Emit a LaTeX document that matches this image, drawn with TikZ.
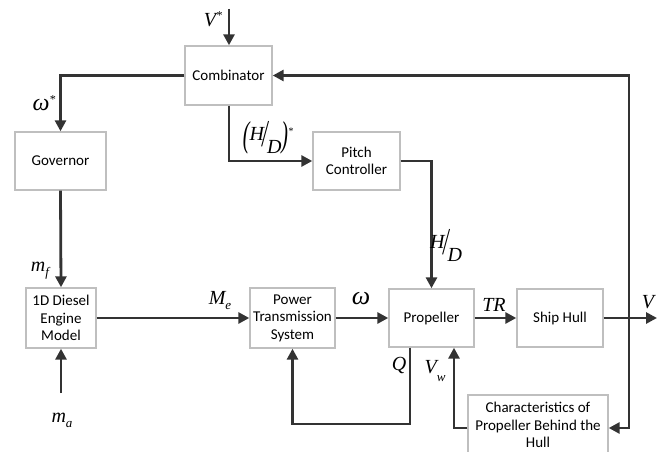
\documentclass[tikz,border=0pt]{standalone}
\usepackage{fontspec}
\usepackage{graphicx}
\setmainfont{Carlito}
\newfontfamily\lblf{Liberation Serif}
\usetikzlibrary{arrows.meta}
\newcommand{\hdfrac}{\raisebox{6pt}{\itshape H}\kern-1pt\scalebox{1}[1.9]{/}\kern-1.5pt\raisebox{-7pt}{\itshape D}}
\begin{document}
\begin{tikzpicture}[x=1pt,y=-1pt,
  blk/.style={draw=black!25,line width=1.4pt,fill=white,align=center,inner sep=1pt,font=\fontsize{15}{17.5}\selectfont},
  conn/.style={draw=black!80,line width=2.8pt,-{Triangle[length=11pt,width=11pt]}},
  lbl/.style={font=\lblf\itshape\fontsize{20}{22}\selectfont,inner sep=0pt}]
\clip (0,0) rectangle (662,452);
\fill[white] (0,0) rectangle (662,452);
\node[blk,minimum width=87pt,minimum height=59pt] (comb) at (228.5,75.5) {Combinator};
\node[blk,minimum width=91pt,minimum height=58pt] (gov) at (60.5,161) {Governor};
\node[blk,minimum width=87pt,minimum height=58pt] (pitch) at (356.5,161) {Pitch\\Controller};
\node[blk,minimum width=70pt,minimum height=60pt] (diesel) at (61,318) {1D Diesel\\Engine\\Model};
\node[blk,minimum width=85pt,minimum height=60pt] (power) at (292.5,318) {Power\\Transmission\\System};
\node[blk,minimum width=85pt,minimum height=58pt] (prop) at (431.5,318) {Propeller};
\node[blk,minimum width=140pt,minimum height=60pt] (char) at (538,425) {Characteristics of\\Propeller Behind the\\Hull};
\node[blk,minimum width=86pt,minimum height=58pt] (hull) at (560,318) {Ship Hull};
\coordinate (vin) at (229,9);
\coordinate (main) at (61,393);
\coordinate (vout) at (657,318);
\coordinate (vtap) at (629,318);
\coordinate (qc) at (410,424);
\draw[conn] (vin) -- (vin |- comb.north);
\draw[conn] (comb.west) -| (gov.north);
\draw[conn] (vin |- comb.south) |- (pitch.west);
\draw[conn] (pitch.east) -| (prop.north);
\draw[conn] (gov.south) -- (diesel.north);
\draw[conn] (main) -- (diesel.south);
\draw[conn] (diesel.east) -- (power.west);
\draw[conn] (power.east) -- (prop.west);
\draw[conn] (prop.east) -- (hull.west);
\draw[conn] (hull.east) -- (vout);
\draw[conn] (vtap) |- (comb.east);
\draw[conn] (vtap) |- ([yshift=-3pt]char.east);
\draw[conn] (qc |- prop.south) -- (qc) -| (power.south);
\draw[conn] ([yshift=-3pt]char.west) -| ([xshift=22.5pt]prop.south);
\node[lbl] (lvs) at (213,19) {V\raisebox{7pt}{\fontsize{12}{12}\selectfont *}};
\node[lbl] (lws) at (44,103) {\fontsize{24}{26}\selectfont ω\raisebox{7pt}{\fontsize{12}{12}\selectfont *}};
\node[lbl] (lhds) at (268,138) {\scalebox{1}[1.8]{(}\hdfrac\scalebox{1}[1.8]{)}\raisebox{12pt}{\fontsize{10}{10}\selectfont *}};
\node[lbl] (lhd) at (446,245) {\hdfrac};
\node[lbl] (lmf) at (40,271) {m\raisebox{-5pt}{\fontsize{13}{13}\selectfont f}};
\node[lbl] (lma) at (62,420) {m\raisebox{-5pt}{\fontsize{13}{13}\selectfont a}};
\node[lbl] (lme) at (220,301) {M\raisebox{-5pt}{\fontsize{13}{13}\selectfont e}};
\node[lbl] (lw) at (361,299) {\fontsize{26}{28}\selectfont ω};
\node[lbl] (ltr) at (494,305) {TR};
\node[lbl] (lv) at (648,302) {V};
\node[lbl] (lq) at (399,365) {Q};
\node[lbl] (lvw) at (435,371) {V\raisebox{-8pt}{\fontsize{13}{13}\selectfont w}};
\end{tikzpicture}
\end{document}
